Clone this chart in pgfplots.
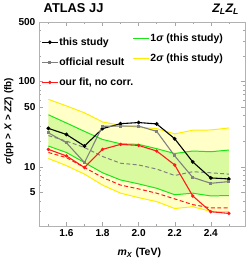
\documentclass[border=0pt]{standalone}
\usepackage{fontspec}
\setmainfont{Liberation Sans}
\usepackage{pgfplots}
\pgfplotsset{compat=1.18}
\usepgfplotslibrary{fillbetween}
\definecolor{ylw}{rgb}{1,0.93,0}
\definecolor{ylwfill}{rgb}{1,1,0.78}
\definecolor{grn}{rgb}{0.1,0.9,0.1}
\definecolor{grnfill}{rgb}{0.85,0.98,0.62}
\definecolor{gry}{rgb}{0.5,0.5,0.5}
\definecolor{rd}{rgb}{1,0.1,0.1}
\pgfplotsset{
  mylegend/.style={
    legend cell align=left,
    legend image code/.code={\draw[mark repeat=2,mark phase=2,##1] plot coordinates {(0bp,0bp)(8bp,0bp)(16bp,0bp)};},
    legend style={draw=none, fill=none, inner sep=0pt,
      font=\bfseries\fontsize{10.6bp}{12bp}\selectfont,
      row sep=8.3bp, nodes={inner sep=1bp, text height=8bp, text depth=2bp}},
  }
}
\begin{document}
\begin{tikzpicture}
\begin{axis}[
  scale only axis, width=208.7bp, height=207bp,
  xmin=1.447, xmax=2.59, ymode=log, ymin=2, ymax=500,
  xtick={1.6,1.8,2.0,2.2,2.4},
  xticklabels={1.6,1.8,2.0,2.2,2.4},
  minor xtick={1.5,1.7,1.9,2.1,2.3,2.5},
  ytick={5,10,50,100,500},
  yticklabels={5,10,50,100,500},
  minor ytick={2,3,4,6,7,8,9,20,30,40,60,70,80,90,200,300,400},
  tick align=inside, major tick length=4bp, minor tick length=2bp,
  tick style={gray!70, line width=0.4pt},
  axis line style={gray!60, line width=0.5pt},
  tick label style={font=\bfseries\fontsize{10.2bp}{12bp}\selectfont},
  /pgf/number format/assume math mode=true,
  clip=true,
  mylegend,
  legend style={at={(rel axis cs:0.0115,0.93)}, anchor=north west},
]
% 2 sigma band
\addplot[name path=yu, draw=none, forget plot] coordinates {
(1.5,61.8)(1.6,51.7)(1.7,42.9)(1.8,33.5)(1.9,30.6)(2.0,29)(2.1,28)(2.2,24.3)(2.3,26.8)(2.4,27)(2.5,28.5)};
\addplot[name path=yd, draw=none, forget plot] coordinates {
(1.5,12.5)(1.6,10.3)(1.7,8.2)(1.8,6.1)(1.9,4.9)(2.0,4.35)(2.1,3.9)(2.2,3.24)(2.3,3.4)(2.4,3.0)(2.5,2.97)};
\addplot[ylwfill, forget plot] fill between[of=yu and yd];
% 1 sigma band
\addplot[name path=gu, draw=none, forget plot] coordinates {
(1.5,40.7)(1.6,32.6)(1.7,26)(1.8,20.9)(1.9,18.6)(2.0,18.3)(2.1,16.3)(2.2,14.3)(2.3,15.3)(2.4,15)(2.5,15.7)};
\addplot[name path=gd, draw=none, forget plot] coordinates {
(1.5,17.5)(1.6,14.7)(1.7,11.2)(1.8,8.5)(1.9,7.0)(2.0,6.3)(2.1,5.6)(2.2,4.7)(2.3,4.9)(2.4,4.55)(2.5,4.6)};
\addplot[grnfill, forget plot] fill between[of=gu and gd];
\addplot[ylw, line width=1pt, forget plot] coordinates {
(1.5,61.8)(1.6,51.7)(1.7,42.9)(1.8,33.5)(1.9,30.6)(2.0,29)(2.1,28)(2.2,24.3)(2.3,26.8)(2.4,27)(2.5,28.5)};
\addplot[ylw, line width=1pt, forget plot] coordinates {
(1.5,12.5)(1.6,10.3)(1.7,8.2)(1.8,6.1)(1.9,4.9)(2.0,4.35)(2.1,3.9)(2.2,3.24)(2.3,3.4)(2.4,3.0)(2.5,2.97)};
\addplot[grn, line width=1pt, forget plot] coordinates {
(1.5,40.7)(1.6,32.6)(1.7,26)(1.8,20.9)(1.9,18.6)(2.0,18.3)(2.1,16.3)(2.2,14.3)(2.3,15.3)(2.4,15)(2.5,15.7)};
\addplot[grn, line width=1pt, forget plot] coordinates {
(1.5,17.5)(1.6,14.7)(1.7,11.2)(1.8,8.5)(1.9,7.0)(2.0,6.3)(2.1,5.6)(2.2,4.7)(2.3,4.9)(2.4,4.55)(2.5,4.6)};
% expected (dashed)
\addplot[gry, dash pattern=on 4pt off 2.5pt, line width=1pt, forget plot] coordinates {
(1.5,23.2)(1.6,20)(1.7,16.8)(1.8,13.2)(1.9,11)(2.0,10.5)(2.1,9.4)(2.2,7.9)(2.3,8.75)(2.4,8.5)(2.5,8.2)};
\addplot[rd, dash pattern=on 4pt off 2.5pt, line width=1pt, forget plot] coordinates {
(1.5,14.7)(1.6,12.8)(1.7,9.8)(1.8,7.5)(1.9,6.1)(2.0,5.5)(2.1,4.9)(2.2,4.2)(2.3,3.6)(2.4,3.3)(2.5,3.3)};
% observed
\addplot[black, line width=1.1pt, mark=*, mark size=1.3pt] coordinates {
(1.5,28.2)(1.6,23.9)(1.7,17.5)(1.8,28)(1.9,32)(2.0,33)(2.1,31.8)(2.2,21.3)(2.3,11.4)(2.4,7.4)(2.5,7.2)};
\addlegendentry{this study}
\addplot[gry, line width=1.1pt, mark=square*, mark size=1pt] coordinates {
(1.5,25)(1.6,19.1)(1.7,11.2)(1.8,29.8)(1.9,30)(2.0,30)(2.1,26)(2.2,13.4)(2.3,7.5)(2.4,6.4)(2.5,6.7)};
\addlegendentry{official result}
\addplot[rd, line width=1.1pt, mark=*, mark size=1.1pt] coordinates {
(1.5,16)(1.6,13.4)(1.7,9.8)(1.8,16)(1.9,18.3)(2.0,17.8)(2.1,15.3)(2.2,10.5)(2.3,4.55)(2.4,2.97)(2.5,2.84)};
\addlegendentry{our fit, no corr.}
\end{axis}
\begin{axis}[
  scale only axis, width=208.7bp, height=207bp, hide axis,
  xmin=0, xmax=1, ymin=0, ymax=1,
  mylegend,
  legend style={at={(rel axis cs:0.454,0.95)}, anchor=north west},
]
\addplot[draw=none, forget plot] coordinates {(0,0)(1,1)};
\addlegendimage{draw=grn, solid, line width=1pt, mark=none}
\addlegendentry{1\textit{σ} (this study)}
\addlegendimage{draw=ylw, solid, line width=1pt, mark=none}
\addlegendentry{2\textit{σ} (this study)}
\end{axis}
\node[anchor=base west, font=\bfseries\fontsize{13bp}{15bp}\selectfont] at (1.4bp,216.7bp) {ATLAS JJ};
\node[anchor=base east, font=\bfseries\itshape\fontsize{12.5bp}{15bp}\selectfont] at (206bp,216.2bp) {Z\textsubscript{L}Z\textsubscript{L}};
\node[anchor=base, font=\bfseries\fontsize{10.6bp}{12bp}\selectfont] at (101.7bp,-29.5bp) {\textit{m}\textsubscript{\textit{X}} (TeV)};
\node[anchor=center, rotate=90, font=\bfseries\fontsize{10bp}{12bp}\selectfont] at (-30.3bp,106.5bp) {\textit{σ}(pp > \textit{X} > \textit{ZZ}) (fb)};
\path (-39.3bp,-33.3bp) rectangle (209.7bp,227.7bp);
\end{tikzpicture}
\end{document}
